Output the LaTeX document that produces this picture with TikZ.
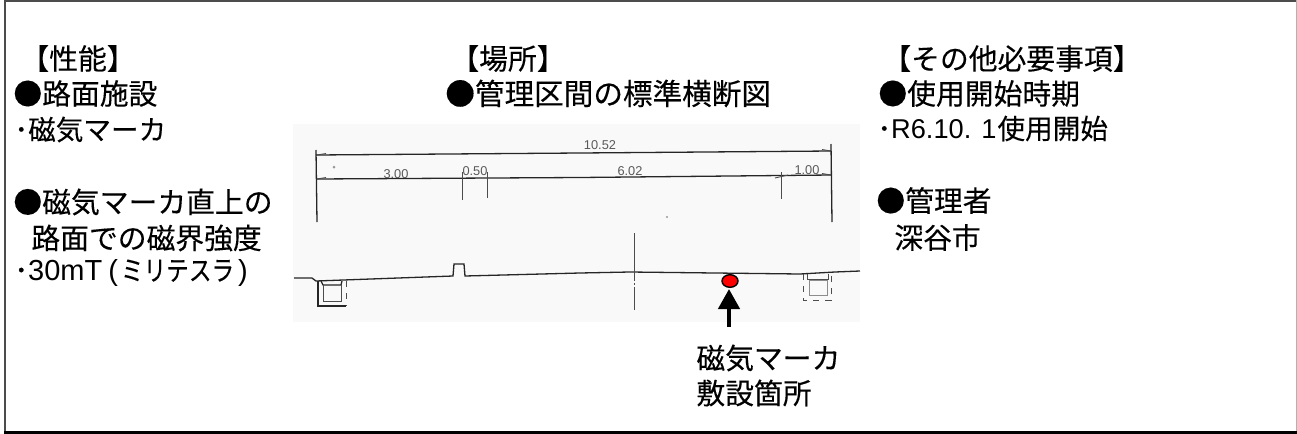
\documentclass[tikz,border=0pt]{standalone}
\usepackage{graphicx}
\usepackage{fontspec}
\usetikzlibrary{arrows.meta,shapes.geometric}
\setmainfont{Noto Sans CJK JP}[FakeBold=0.2]
\newfontfamily\dimfont{Liberation Sans}
\tikzset{
  big/.style={anchor=west,inner sep=0pt,font=\fontsize{14.4pt}{14.4pt}\selectfont,text=black},
  wide/.style={anchor=west,inner sep=0pt,font=\fontsize{14.8pt}{14.8pt}\selectfont,text=black},
  small/.style={anchor=west,inner sep=0pt,font=\fontsize{13.8pt}{13.8pt}\selectfont,text=black},
  dimtext/.style={inner sep=0pt,font=\dimfont\fontsize{6.4pt}{6.4pt}\selectfont,text=black!65},
  ink/.style={line width=0.65pt,draw=black!85},
  thin ink/.style={line width=0.45pt,draw=black!70},
  speck/.style={fill=black!40},
}
\begin{document}
\begin{tikzpicture}[x=0.5pt,y=-0.5pt]
\useasboundingbox (0,0) rectangle (1297,434);
\fill[white] (0,0) rectangle (1297,434);
% frame
\fill[black!70] (4,0) rectangle (1297,1.5);
\fill[black!70] (4,0) rectangle (6,434);
\fill[black!30] (1295.7,0) rectangle (1297,431);
\fill[black] (4,430.7) rectangle (1297,434);
% drawing background
\fill[black!2.5] (293,124) rectangle (860,322);
\fill[speck] (334,167) circle (1.5);
\fill[speck] (667,217) circle (1.2);
% left column
\node[big] (a1) at (20,58.5) {【性能】};
\node[big] (a2) at (13,93.5) {●路面施設};
\node[small] (a3) at (14,129.5) {･磁気マーカ};
\node[big] (a4) at (13,202) {●磁気マーカ直上の};
\node[big] (a5) at (31,238) {路面での磁界強度};
\node[small] (a6) at (14,273) {･{\dimfont\fontsize{14.5pt}{14.5pt}\selectfont 30mT\kern3pt(}\kern1.5pt\scalebox{0.82}[1]{ミリテスラ}{\dimfont\fontsize{14.5pt}{14.5pt}\selectfont\kern2pt)}};
% middle column
\node[big] (b1) at (450,58.5) {【場所】};
\node[wide] (b2) at (445,93.5) {●管理区間の標準横断図};
% right column
\node[big] (c1) at (882,58.5) {【その他必要事項】};
\node[big] (c2) at (878,93.5) {●使用開始時期};
\node[small] (c3) at (877,128.5) {･{\dimfont\fontsize{13.6pt}{13.6pt}\selectfont R6.10. 1}\kern0.5pt使用開始};
\node[big] (c4) at (876,200.5) {●管理者};
\node[big] (c5) at (894,237.5) {深谷市};
% dimensions
\draw[ink] (316,150) -- (317,222);
\draw[ink] (831,144) -- (832,222);
\draw[ink] (316,155) -- (580,153) -- (831,151);
\draw[ink] (316,179) -- (580,177.5) -- (831,175);
\draw[thin ink] (462,172) -- (462,200);
\draw[thin ink] (487,172) -- (487,198);
\draw[thin ink] (781,172) -- (781,199);
\draw[thin ink] (317,155) -- (326,153.5) (317,179) -- (326,177.5) (822,149.5) -- (831,151) (822,173.5) -- (831,175) (775,178) -- (788,175);
\node[dimtext] (d1) at (600,145) {10.52};
\node[dimtext] (d2) at (396,174) {3.00};
\node[dimtext] (d3) at (475,171) {0.50};
\node[dimtext] (d4) at (630,171) {6.02};
\node[dimtext] (d5) at (807,170) {1.00};
% road
\draw[ink] (294,278) -- (312,278) -- (316,281) -- (453,276) -- (454,264) -- (464,264) -- (465,276) -- (580,273) -- (630,272) -- (800,274) -- (835,272) -- (860,271);
% centre line
\draw[thin ink,dash pattern=on 24pt off 1pt on 1pt off 1pt] (634,233) -- (634,310);
% left box
\draw[ink] (318,281) -- (318,306) -- (346,306);
\draw[thin ink,dashed] (346,281) -- (346,306);
\draw[ink] (321,281) -- (323,285) -- (341,285) -- (342,281);
\draw[thin ink] (323,285) -- (323,301) -- (341,301) -- (341,285);
% right box
\draw[thin ink,dashed] (803,274) -- (803,300) -- (831,300) -- (831,274);
\draw[thin ink] (807,274) -- (807,279) -- (828,279) -- (828,274);
\draw[line width=0.35pt,draw=black!45] (809,280) -- (809,295) -- (827,295) -- (827,280) -- cycle;
% marker
\node[draw=black,line width=0.7pt,fill=red,ellipse,minimum width=8pt,minimum height=6.3pt,inner sep=0pt] (m) at (730,281) {};
\node[big] (l1) at (696,358) {磁気マーカ};
\node[big] (l2) at (696,393) {敷設箇所};
\coordinate (as) at (729,327);
\coordinate (at) at (729,289);
\draw[line width=2.2pt,draw=black,-{Triangle[length=10pt,width=10.5pt]}] (as) -- (at);
\end{tikzpicture}
\end{document}
